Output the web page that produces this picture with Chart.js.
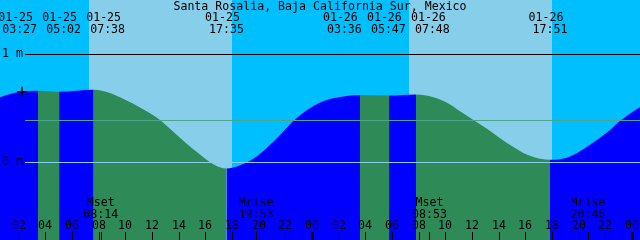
<!DOCTYPE html>
<html>
<head>
<meta charset="utf-8">
<script src="https://cdn.jsdelivr.net/npm/chart.js@4/dist/chart.umd.min.js"></script>
<style>
html, body { margin: 0; padding: 0; background: #00bfff; }
canvas { display: block; }
</style>
</head>
<body>
<canvas id="grafico" width="640" height="240"></canvas>
<script>
const titulo = 'Santa Rosalia, Baja California Sur, Mexico';

// highs / lows
const tideDates = ['01-25', '01-25', '01-25', '01-25', '01-26', '01-26', '01-26', '01-26'];
const tideTimes = ['03:27', '05:02', '07:38', '17:35', '03:36', '05:47', '07:48', '17:51'];
const tideKinds = ['H', 'L', 'H', 'L', 'H', 'L', 'H', 'L'];
const tideLevels = [0.66, 0.65, 0.67, -0.06, 0.62, 0.615, 0.625, 0.02];

// curve between the events, hours since 01-25 00:00, metres
const curveHours = [0.6, 1.35, 2.1, 8.85, 9.6, 10.6, 11.6, 12.6, 13.6, 14.6, 15.6, 16.6,
    18.6, 19.6, 20.6, 21.6, 22.6, 23.6, 24.6, 25.6, 26.6,
    33.1, 34.1, 35.1, 36.1, 37.1, 38.1, 39.1, 40.1, 41.1,
    43.1, 44.1, 45.1, 46.1, 47.1, 48.1, 48.6];
const curveLevels = [0.60, 0.63, 0.65, 0.64, 0.60, 0.54, 0.47, 0.39, 0.28, 0.17, 0.07, -0.02,
    -0.03, 0.03, 0.13, 0.25, 0.38, 0.48, 0.55, 0.59, 0.61,
    0.60, 0.55, 0.47, 0.39, 0.31, 0.22, 0.14, 0.07, 0.03,
    0.04, 0.10, 0.18, 0.27, 0.38, 0.47, 0.51];

const sunDates = ['01-25', '01-26'];
const sunrise = ['07:17', '07:17'];
const sunset = ['18:00', '18:00'];

const moonDates = ['01-25', '01-25', '01-26', '01-26'];
const moonTimes = ['08:14', '19:53', '08:53', '20:46'];
const moonLabels = ['Mset', 'Mrise', 'Mset', 'Mrise'];

const levelLines = [1, 0];
const levelLabels = ['1 m', '0 m'];
const mslLevel = 0.39;
const markHours = [2.25];
const markLevels = [0.65];

const tickHours = [2, 4, 6, 8, 10, 12, 14, 16, 18, 20, 22, 24, 26, 28, 30, 32, 34, 36, 38, 40, 42, 44, 46, 48];

const NOCHE = '#00bfff';
const DIA = '#87ceeb';
const BAJANDO = '#2e8b57';
const SUBIENDO = '#0000ff';
const FUENTE = '11.6px "DejaVu Sans Mono", monospace';

function aHoras(fecha, hora) {
    const dia = parseInt(fecha.slice(3), 10) - 25;
    const [h, m] = hora.split(':').map(Number);
    return dia * 24 + h + m / 60;
}

const tideHours = tideDates.map((d, i) => aHoras(d, tideTimes[i]));

const puntos = curveHours.map((h, i) => ({x: h, y: curveLevels[i]}))
    .concat(tideHours.map((h, i) => ({x: h, y: tideLevels[i]})))
    .sort((a, b) => a.x - b.x);

function bajando(t) {
    let ultimo = null;
    tideHours.forEach((h, i) => { if (h <= t + 1e-6) ultimo = tideKinds[i]; });
    return ultimo === 'H';
}

function ubicarEtiquetas(xs, ancho) {
    const pos = xs.slice();
    let i = 0;
    while (i < xs.length) {
        let j = i;
        while (j + 1 < xs.length && xs[j + 1] - xs[j] < ancho) j++;
        const n = j - i + 1;
        const media = xs.slice(i, j + 1).reduce((s, v) => s + v, 0) / n;
        for (let k = i; k <= j; k++) pos[k] = media + (k - i - (n - 1) / 2) * ancho;
        i = j + 1;
    }
    return pos;
}

const fondo = {
    id: 'fondo',
    beforeDatasetsDraw(chart) {
        const {ctx, chartArea: a, scales: {x}} = chart;
        ctx.save();
        ctx.fillStyle = NOCHE;
        ctx.fillRect(a.left, a.top, a.width, a.height);
        ctx.fillStyle = DIA;
        sunDates.forEach((d, i) => {
            const x0 = Math.round(x.getPixelForValue(aHoras(d, sunrise[i])));
            const x1 = Math.round(x.getPixelForValue(aHoras(d, sunset[i])));
            ctx.fillRect(x0, a.top, x1 - x0, a.height);
        });
        ctx.restore();
    },
    afterDatasetsDraw(chart) {
        const {ctx, chartArea: a, scales: {y}} = chart;
        ctx.save();
        const yMsl = Math.round(y.getPixelForValue(mslLevel));
        ctx.fillStyle = '#4ea48c';
        ctx.fillRect(25, yMsl, a.right - 25, 1);
        levelLines.forEach((v, i) => {
            const py = Math.round(y.getPixelForValue(v));
            ctx.fillStyle = v === 0 ? DIA : '#000000';
            ctx.fillRect(25, py, a.right - 25, 1);
            ctx.fillStyle = '#000000';
            ctx.font = FUENTE;
            ctx.textBaseline = 'middle';
            ctx.textAlign = 'left';
            ctx.fillText(levelLabels[i], 2, py);
        });
        ctx.restore();
    },
    afterDraw(chart) {
        const {ctx, chartArea: a, scales: {x}} = chart;
        ctx.save();
        ctx.fillStyle = '#000000';
        ctx.font = FUENTE;
        ctx.textAlign = 'center';
        ctx.textBaseline = 'alphabetic';
        ctx.fillText(titulo, 320, 10);

        const xs = tideHours.map(h => x.getPixelForValue(h));
        const pos = ubicarEtiquetas(xs, 44);
        pos.forEach((c, i) => {
            ctx.fillText(tideDates[i], c - 4, 21);
            ctx.fillText(tideTimes[i], c, 33);
        });

        tickHours.forEach(h => {
            const px = Math.round(x.getPixelForValue(h));
            ctx.fillText(String(h % 24).padStart(2, '0'), px, 229);
            if (h % 24 === 0) ctx.fillRect(px - 1, 232, 3, a.bottom - 232);
            else ctx.fillRect(px, 232, 1, a.bottom - 232);
        });

        moonDates.forEach((d, i) => {
            const px = x.getPixelForValue(aHoras(d, moonTimes[i]));
            ctx.fillText(moonLabels[i], px - 1, 206);
            ctx.fillText(moonTimes[i], px - 1, 218);
            ctx.fillRect(Math.round(px) - 1, 232, 1, a.bottom - 232);
        });
        ctx.restore();
    }
};

new Chart(document.getElementById('grafico'), {
    type: 'line',
    data: {
        datasets: [
            {
                type: 'scatter',
                data: markHours.map((h, i) => ({x: h, y: markLevels[i]})),
                pointStyle: 'cross',
                pointRadius: 5,
                borderColor: '#000000',
                borderWidth: 1.5,
                order: 0
            },
            {
                data: puntos,
                fill: 'start',
                backgroundColor: SUBIENDO,
                borderColor: 'rgba(0,0,0,0)',
                borderWidth: 0,
                pointRadius: 0,
                cubicInterpolationMode: 'monotone',
                segment: {
                    backgroundColor: c => bajando(c.p0.parsed.x) ? BAJANDO : SUBIENDO
                },
                order: 1
            }
        ]
    },
    options: {
        responsive: false,
        animation: false,
        layout: {padding: 0, autoPadding: false},
        plugins: {legend: {display: false}, tooltip: {enabled: false}, title: {display: false}},
        scales: {
            x: {type: 'linear', min: 0.6, max: 48.6, display: false},
            y: {min: -0.7222, max: 1.5, display: false}
        }
    },
    plugins: [fondo]
});
</script>
</body>
</html>
